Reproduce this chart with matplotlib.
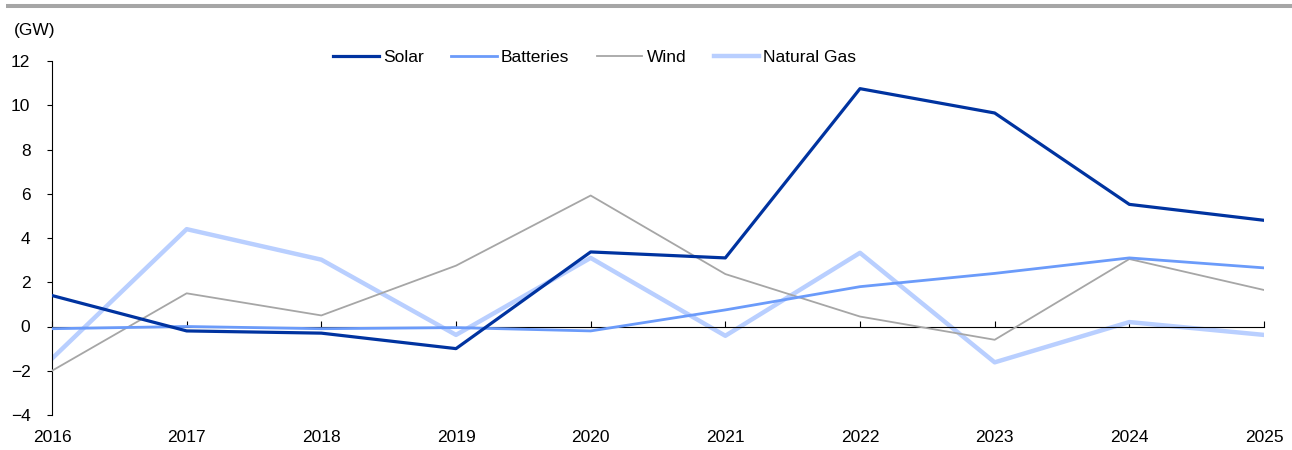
import matplotlib
matplotlib.use("Agg")
import matplotlib.pyplot as plt
from matplotlib import font_manager

names = {f.name for f in font_manager.fontManager.ttflist}
fam = ["Liberation Sans Narrow"] if "Liberation Sans Narrow" in names else ["Liberation Sans"]
plt.rcParams['font.family'] = fam + ["DejaVu Sans"]

years = [2016, 2017, 2018, 2019, 2020, 2021, 2022, 2023, 2024, 2025]
solar = [1.4, -0.2, -0.3, -1.0, 3.37, 3.1, 10.75, 9.65, 5.52, 4.8]
batteries = [-0.1, 0.0, -0.1, -0.05, -0.2, 0.75, 1.8, 2.4, 3.1, 2.65]
wind = [-2.0, 1.5, 0.5, 2.75, 5.92, 2.37, 0.45, -0.6, 3.05, 1.65]
natural_gas = [-1.45, 4.4, 3.02, -0.38, 3.1, -0.42, 3.33, -1.62, 0.2, -0.38]
yticks = [-4, -2, 0, 2, 4, 6, 8, 10, 12]

fig = plt.figure(figsize=(12.92, 4.5), dpi=100)
ax = fig.add_axes([52/1292, 1-415/450, (1264-52)/1292, (415-61)/450])

ax.plot(years, solar, color="#0033A0", lw=2.3, label="Solar", zorder=5)
ax.plot(years, batteries, color="#6B9BFA", lw=2.0, label="Batteries", zorder=4)
ax.plot(years, wind, color="#A6A6A6", lw=1.3, label="Wind", zorder=3)
ax.plot(years, natural_gas, color="#B9CFFF", lw=3.2, label="Natural Gas", zorder=2)

ax.set_xlim(2016, 2025)
ax.set_ylim(-4, 12)
ax.set_yticks(yticks)
ax.set_yticklabels([str(v).replace("-", "\u2212") for v in yticks], fontsize=12.5)
ax.tick_params(axis="y", direction="out", length=3.5, width=0.8, pad=12)

ax.spines["top"].set_visible(False)
ax.spines["right"].set_visible(False)
ax.spines["left"].set_linewidth(0.8)
ax.spines["bottom"].set_position(("data", 0))
ax.spines["bottom"].set_linewidth(0.8)
ax.set_xticks(years)
ax.tick_params(axis="x", direction="in", length=4, width=0.8, labelbottom=False)

sec = ax.secondary_xaxis(0.0)
sec.set_xticks(years)
sec.set_xticklabels([str(y) for y in years], fontsize=12.5)
sec.tick_params(length=0, pad=11)
sec.spines["bottom"].set_visible(False)

fig.text(14/1292, 1-31/450, "(GW)", fontsize=12.5, va="center", ha="left")

leg = ax.legend(loc="center", bbox_to_anchor=(0.448, 1+4/354), ncol=4, frameon=False,
                fontsize=12.5, handlelength=2.6, handletextpad=0.25, columnspacing=1.6)

# top grey bar
fig.add_artist(plt.Line2D([6/1292, 1], [1-6/450, 1-6/450], color="#A6A6A6", lw=2.9,
                          solid_capstyle="butt", transform=fig.transFigure))

fig.savefig("out.png", dpi=100)
